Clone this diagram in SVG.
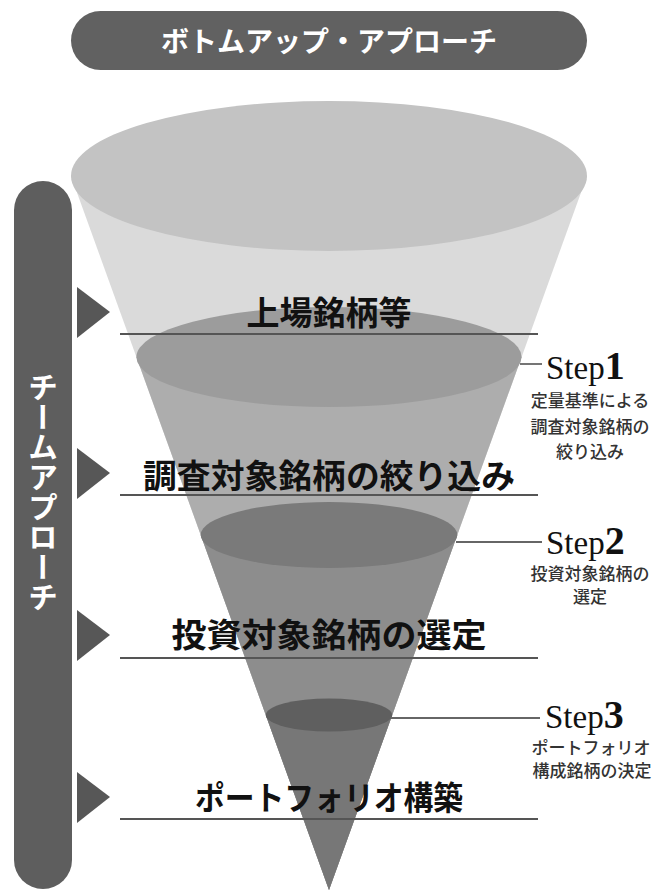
<svg xmlns="http://www.w3.org/2000/svg" width="666" height="891" viewBox="0 0 666 891">
<style>
.jp{font-family:"Noto Sans CJK JP","Noto Sans",sans-serif}
.lbl{font-size:33px;font-weight:700;fill:#111;text-anchor:middle}
.wt{fill:#fff;font-weight:700}
.desc{font-size:17px;fill:#333;text-anchor:middle;font-weight:500}
.step{font-family:"Liberation Serif",serif;fill:#111}
.dg{font-weight:700;font-size:40px}
.hl{stroke:#555;stroke-width:2.2}
.sl{stroke:#666;stroke-width:1.8}
.tri{fill:#575757}
</style>
<rect width="666" height="891" fill="#fff"/>
<g id="banner">
<rect x="71" y="11" width="516" height="59" rx="29.5" fill="#616161"/>
<text class="jp wt" x="329" y="52" font-size="28" text-anchor="middle">ボトムアップ・アプローチ</text>
</g>
<g id="team-bar">
<rect x="14" y="181" width="58" height="708" rx="29" fill="#5e5e5e"/>
<text class="jp wt" x="43" y="492" font-size="30" text-anchor="middle" style="writing-mode:vertical-rl">チームアプローチ</text>
</g>
<g id="funnel">
<polygon points="71,176 329,890 587,176" fill="#dadada"/>
<ellipse cx="329" cy="176" rx="258" ry="75" fill="#c3c3c3"/>
<polygon points="136.4,357 329,890 521.6,357" fill="#adadad"/>
<ellipse cx="329" cy="357" rx="192.6" ry="50" fill="#9c9c9c"/>
<polygon points="200.7,535 329,890 457.3,535" fill="#8d8d8d"/>
<ellipse cx="329" cy="535" rx="128.3" ry="33" fill="#7a7a7a"/>
<polygon points="265.8,715 329,890 392.2,715" fill="#777"/>
<ellipse cx="329" cy="715" rx="63.2" ry="16.5" fill="#5f5f5f"/>
</g>
<g id="connectors">
<line class="hl" x1="120" y1="334" x2="538" y2="334"/>
<line class="hl" x1="120" y1="495" x2="538" y2="495"/>
<line class="hl" x1="120" y1="658" x2="538" y2="658"/>
<line class="hl" x1="120" y1="819" x2="538" y2="819"/>
<line class="sl" x1="520" y1="364" x2="542" y2="364"/>
<line class="sl" x1="456" y1="542" x2="542" y2="542"/>
<line class="sl" x1="391" y1="718" x2="540" y2="718"/>
</g>
<g id="arrow1"><polygon class="tri" points="77,287 110,312 77,338"/></g>
<g id="arrow2"><polygon class="tri" points="77,448 110,473 77,499"/></g>
<g id="arrow3"><polygon class="tri" points="77,610 110,635 77,661"/></g>
<g id="arrow4"><polygon class="tri" points="77,772 110,797 77,823"/></g>
<g id="stage1"><text class="jp lbl" x="329" y="325">上場銘柄等</text></g>
<g id="stage2"><text class="jp lbl" x="329" y="488" textLength="372" lengthAdjust="spacingAndGlyphs">調査対象銘柄の絞り込み</text></g>
<g id="stage3"><text class="jp lbl" x="329" y="647" textLength="315" lengthAdjust="spacingAndGlyphs">投資対象銘柄の選定</text></g>
<g id="stage4"><text class="jp lbl" x="329" y="810" textLength="268" lengthAdjust="spacingAndGlyphs">ポートフォリオ構築</text></g>
<g id="step1">
<text class="step" x="546" y="379" font-size="33">Step<tspan class="dg">1</tspan></text>
<text class="jp desc" x="590" y="407">定量基準による</text>
<text class="jp desc" x="590" y="433">調査対象銘柄の</text>
<text class="jp desc" x="590" y="458">絞り込み</text>
</g>
<g id="step2">
<text class="step" x="546" y="554" font-size="33">Step<tspan class="dg">2</tspan></text>
<text class="jp desc" x="590" y="580">投資対象銘柄の</text>
<text class="jp desc" x="590" y="603">選定</text>
</g>
<g id="step3">
<text class="step" x="545" y="728" font-size="33">Step<tspan class="dg">3</tspan></text>
<text class="jp desc" x="591" y="754" font-size="15">ポートフォリオ</text>
<text class="jp desc" x="592" y="777">構成銘柄の決定</text>
</g>
</svg>
